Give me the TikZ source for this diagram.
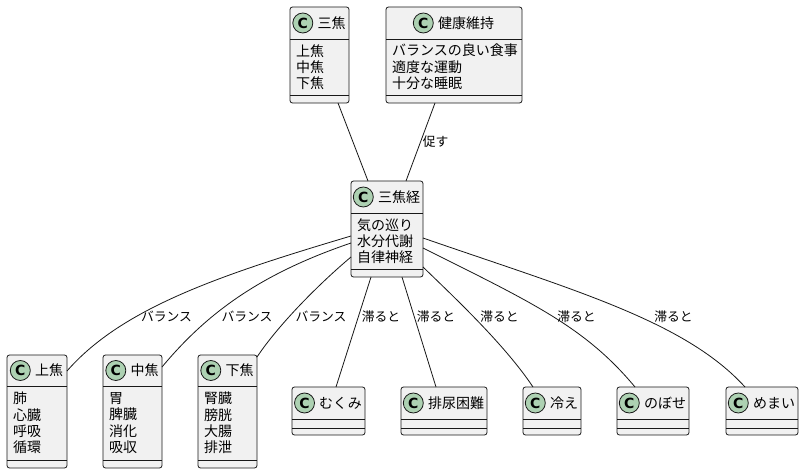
\documentclass[tikz,border=0pt]{standalone}
\usepackage{fontspec}
\setmainfont{Noto Sans CJK JP}
\newfontfamily\cfont{DejaVu Sans}
\definecolor{ln}{HTML}{181818}
\definecolor{bx}{HTML}{F1F1F1}
\definecolor{cc}{HTML}{ADD1B2}
\tikzset{
 classbox/.style={draw=ln, fill=bx, line width=0.8pt, rounded corners=2.5pt, inner sep=0pt, outer sep=0pt},
 sepline/.style={draw=ln, line width=0.8pt},
 headtext/.style={inner sep=0pt, font=\fontsize{14}{16}\selectfont, text=black},
 bodytext/.style={inner sep=0pt, align=left, anchor=west, font=\fontsize{14}{16.3}\selectfont},
 cmark/.style={circle, draw=ln, fill=cc, line width=0.8pt, minimum size=20pt, inner sep=0pt, font=\cfont\bfseries\fontsize{14}{14}\selectfont},
 conn/.style={draw=ln, line width=0.8pt},
 elabel/.style={font=\fontsize{12.8}{14}\selectfont, inner sep=0pt},
}
\newcommand{\umlclass}[9]{%
 \pgfmathsetmacro\ucX{(#2+#4)/2}%
 \pgfmathsetmacro\ucY{(#3+#7)/2}%
 \pgfmathsetmacro\ucW{#4-#2}%
 \pgfmathsetmacro\ucH{#7-#3}%
 \pgfmathsetmacro\ucHY{(#3+#5)/2}%
 \pgfmathsetmacro\ucBY{(#5+#6)/2}%
 \pgfmathsetmacro\ucTX{\ucX+12}%
 \pgfmathsetmacro\ucBX{#2+6}%
 \node[classbox, minimum width=\ucW pt, minimum height=\ucH pt] (#1) at (\ucX,\ucY) {};
 \draw[sepline] (#2,#5) -- (#4,#5);
 \draw[sepline] (#2,#6) -- (#4,#6);
 \node[headtext] (#1-t) at (\ucTX,\ucHY) {#8};
 \node[cmark] (#1-c) at ([xshift=-14.5pt]#1-t.west) {C};
 \node[bodytext] (#1-b) at (\ucBX,\ucBY) {#9};
}
\begin{document}
\begin{tikzpicture}[x=1pt,y=-1pt]
\useasboundingbox (0,0) rectangle (807,473);
\fill[white] (0,0) rectangle (807,473);

\umlclass{sj}{290}{7}{349}{39}{95}{103}{三焦}{上焦\\中焦\\下焦}
\umlclass{kk}{386}{7}{522}{39}{95}{103}{健康維持}{バランスの良い食事\\適度な運動\\十分な睡眠}
\umlclass{sjk}{351}{181}{423}{213}{269}{277}{三焦経}{気の巡り\\水分代謝\\自律神経}
\umlclass{jo}{7}{355}{67}{386}{460}{468}{上焦}{肺\\心臓\\呼吸\\循環}
\umlclass{cho}{103}{355}{162}{386}{460}{468}{中焦}{胃\\脾臓\\消化\\吸収}
\umlclass{ge}{198}{355}{257}{386}{460}{468}{下焦}{腎臓\\膀胱\\大腸\\排泄}
\umlclass{mu}{292}{387}{365}{419}{428}{435}{むくみ}{}
\umlclass{hn}{401}{387}{487}{419}{428}{435}{排尿困難}{}
\umlclass{hie}{523}{387}{581}{419}{428}{435}{冷え}{}
\umlclass{nob}{617}{387}{689}{419}{428}{435}{のぼせ}{}
\umlclass{mem}{726}{387}{798}{419}{428}{435}{めまい}{}

\draw[conn] ([xshift=18.5pt]sj.south) -- ([xshift=-19pt]sjk.north);
\draw[conn] ([xshift=-19pt]kk.south) -- node[elabel, right=2pt, pos=0.5] (l0) {促す} ([xshift=19pt]sjk.north);

\draw[conn] ([yshift=-55pt]sjk.north west) .. controls (220,275) and (122,308) .. ([yshift=-16pt]jo.north east);
\draw[conn] ([yshift=-62pt]sjk.north west) .. controls (260,274) and (207,313) .. ([yshift=-12pt]cho.north east);
\draw[conn] ([yshift=-76pt]sjk.north west) .. controls (320,283) and (279,324) .. ([yshift=-2pt]ge.north east);
\draw[conn] ([xshift=-16pt]sjk.south) -- ([xshift=7.5pt]mu.north);
\draw[conn] ([xshift=15pt]sjk.south) -- ([xshift=-8pt]hn.north);
\draw[conn] ([yshift=-86pt]sjk.north east) .. controls (455,298) and (505,345) .. ([xshift=-19pt]hie.north);
\draw[conn] ([yshift=-67pt]sjk.north east) .. controls (533,303) and (585,327) .. ([xshift=-18pt]nob.north);
\draw[conn] ([yshift=-57pt]sjk.north east) .. controls (573,290) and (685,321) .. ([xshift=-17pt]mem.north);

\node[elabel] (l1) at (166.5,317) {バランス};
\node[elabel] (l2) at (247,317) {バランス};
\node[elabel] (l3) at (321,317) {バランス};
\node[elabel] (l4) at (381,317) {滞ると};
\node[elabel] (l5) at (436,317) {滞ると};
\node[elabel] (l6) at (499.5,317) {滞ると};
\node[elabel] (l7) at (576.5,317) {滞ると};
\node[elabel] (l8) at (673.5,317) {滞ると};
\end{tikzpicture}
\end{document}
